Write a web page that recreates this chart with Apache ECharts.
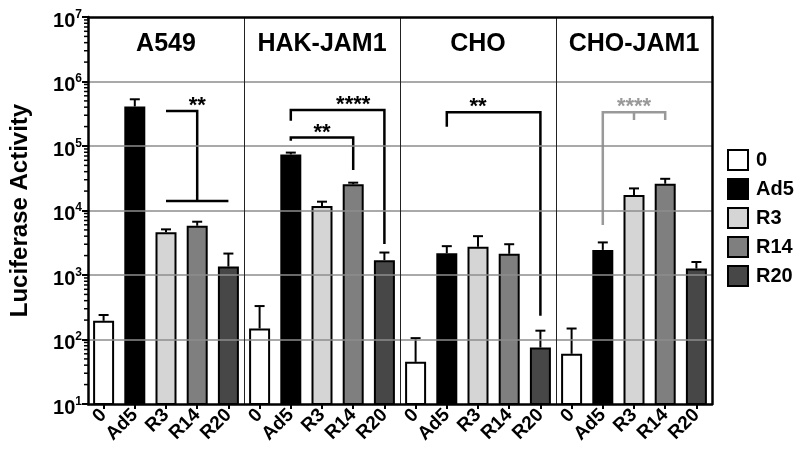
<!DOCTYPE html>
<html><head><meta charset="utf-8">
<script src="https://cdn.jsdelivr.net/npm/echarts@6/dist/echarts.min.js"></script>
<style>html,body{margin:0;padding:0;background:#fff}#c{width:800px;height:461px}</style>
</head><body><div id="c"></div>
<script>
// ---- data ----
const panels = ['A549', 'HAK-JAM1', 'CHO', 'CHO-JAM1'];
const groups = ['0', 'Ad5', 'R3', 'R14', 'R20'];
const meanA549 = [195, 410000, 4600, 5800, 1350];
const errA549  = [240, 530000, 5100, 6700, 2150];
const meanHAK  = [148, 74000, 11700, 25500, 1700];
const errHAK   = [330, 79000, 13700, 27000, 2230];
const meanCHO  = [45, 2170, 2750, 2130, 75];
const errCHO   = [105, 2800, 4000, 3000, 137];
const meanCJ   = [60, 2450, 17400, 26000, 1260];
const errCJ    = [148, 3200, 22000, 31000, 1590];
const means = [meanA549, meanHAK, meanCHO, meanCJ];
const errs  = [errA549, errHAK, errCHO, errCJ];
// significance brackets: points as [category index, value]
const bracketLines = [
  [[1.81, 3.5e5], [3, 3.5e5], [3, 1.4e4]],
  [[2.13, 1.4e4], [3.95, 1.4e4]],
  [[6, 2.47e5], [6, 3.6e5], [9, 3.6e5], [9, 3030]],
  [[6, 1.21e5], [6, 1.35e5], [8, 1.35e5], [8, 4.25e4]],
  [[11, 1.99e5], [11, 3.33e5], [14, 3.33e5], [14, 234]],
  [[16, 5960], [16, 3.33e5], [18, 3.33e5], [18, 2.53e5]],
  [[17, 3.33e5], [17, 2.53e5]]
];
const bracketGray = [false, false, false, false, false, true, true];
const starText = ['**', '****', '**', '**', '****'];
const starPos  = [[2.54, 3.5e5], [7.63, 3.6e5], [7.1, 1.35e5], [12.44, 3.33e5], [16.93, 3.33e5]];
const starGray = [false, false, false, false, true];

// ---- styles ----
const groupColors = ['#ffffff', '#000000', '#d5d5d5', '#7f7f7f', '#474747'];
const FONT = 'Arial, "Liberation Sans", Helvetica, sans-serif';

const cats = [];
panels.forEach(p => groups.forEach(g => cats.push(p + '|' + g)));

const barSeries = groups.map((g, gi) => {
  const data = [];
  panels.forEach((p, pi) => groups.forEach((g2, k) => data.push(k === gi ? means[pi][k] : '-')));
  return {
    name: g, type: 'bar', barWidth: 21, barGap: '-100%', z: 2,
    itemStyle: { color: groupColors[gi], borderColor: '#000', borderWidth: 2 },
    data
  };
});

const errData = [];
panels.forEach((p, pi) => groups.forEach((g, k) => errData.push([pi * 5 + k, means[pi][k], errs[pi][k]])));

const minorData = [];
for (let d = 1; d < 7; d++) for (let k = 2; k <= 9; k++) minorData.push([0, k * Math.pow(10, d)]);

const chart = echarts.init(document.getElementById('c'), null, { renderer: 'canvas' });
chart.setOption({
  animation: false,
  backgroundColor: '#fff',
  textStyle: { fontFamily: FONT },
  grid: { left: 88, right: 88, top: 17, bottom: 57, show: false, containLabel: false, outerBoundsMode: 'none' },
  legend: {
    orient: 'vertical', left: 722, top: 144, itemWidth: 20, itemHeight: 20, itemGap: 7,
    icon: 'rect', data: groups,
    textStyle: { fontSize: 20, fontWeight: 'bold', color: '#000', fontFamily: FONT, padding: [0, 0, 0, 3] }
  },
  xAxis: [{
    type: 'category', data: cats, z: 10,
    axisLine: { show: true, lineStyle: { color: '#000', width: 2.5 } },
    axisTick: { show: true, alignWithLabel: true, length: 5, interval: 0, lineStyle: { color: '#000', width: 2 } },
    splitLine: { show: true, interval: (i) => i > 0 && i % 5 === 0, lineStyle: { color: '#222', width: 1 } },
    axisLabel: { interval: 0, rotate: 45, margin: 8, fontSize: 19, fontWeight: 'bold', color: '#000', fontFamily: FONT,
      hideOverlap: false, formatter: v => v.split('|')[1] }
  }, {
    type: 'category', data: panels, position: 'top', z: 10,
    axisLine: { show: true, lineStyle: { color: '#000', width: 2.5 } }, axisTick: { show: false }, splitLine: { show: false },
    axisLabel: { inside: true, interval: 0, hideOverlap: false, margin: 15, fontSize: 25, fontWeight: 'bold', color: '#000', fontFamily: FONT }
  }],
  yAxis: [{
    type: 'log', logBase: 10, min: 10, max: 1e7, splitNumber: 6, z: 10,
    name: 'Luciferase Activity', nameLocation: 'middle', nameGap: 56,
    nameTextStyle: { fontSize: 24, fontWeight: 'bold', color: '#000', fontFamily: FONT },
    axisLine: { show: true, lineStyle: { color: '#000', width: 2.5 } },
    axisTick: { show: true, length: 6, lineStyle: { color: '#000', width: 2 } },
    splitLine: { show: true, showMinLine: false, showMaxLine: false, lineStyle: { color: '#8c8c8c', width: 1.5 } },
    axisLabel: {
      margin: 6, color: '#000',
      formatter: v => '{b|10}{s|' + Math.round(Math.log10(v)) + '}',
      rich: {
        b: { fontSize: 20, fontWeight: 'bold', color: '#000', fontFamily: FONT, padding: [8, 0, 0, 0] },
        s: { fontSize: 12, fontWeight: 'bold', color: '#000', fontFamily: FONT, padding: [0, 0, 5, 0] }
      }
    }
  }, {
    type: 'log', logBase: 10, min: 10, max: 1e7, position: 'right', z: 10,
    axisLine: { show: true, lineStyle: { color: '#000', width: 2.5 } },
    axisTick: { show: false }, axisLabel: { show: false }, splitLine: { show: false }
  }],
  series: barSeries.concat([
    {
      type: 'custom', name: 'err', z: 3, silent: true, data: errData,
      encode: { x: 0, y: [1, 2] },
      renderItem(params, api) {
        const x = api.value(0), m = api.value(1), e = api.value(2);
        const p0 = api.coord([x, m]), p1 = api.coord([x, e]);
        const hw = 5;
        return { type: 'group', children: [
          { type: 'line', shape: { x1: p0[0], y1: p0[1], x2: p1[0], y2: p1[1] }, style: { stroke: '#000', lineWidth: 2 } },
          { type: 'line', shape: { x1: p1[0] - hw, y1: p1[1], x2: p1[0] + hw, y2: p1[1] }, style: { stroke: '#000', lineWidth: 2 } }
        ] };
      }
    },
    {
      type: 'custom', name: 'minor', z: 11, silent: true, data: minorData,
      encode: { x: 0, y: 1 },
      renderItem(params, api) {
        const y = api.coord([0, api.value(1)])[1];
        const x = params.coordSys.x;
        return { type: 'line', shape: { x1: x - 4, y1: y, x2: x, y2: y }, style: { stroke: '#000', lineWidth: 1.5 } };
      }
    },
    {
      type: 'custom', name: 'brackets', z: 4, silent: true,
      data: bracketLines.map((b, i) => [b[0][0], b[0][1], i]),
      encode: { x: 0, y: 1 },
      renderItem(params, api) {
        const i = params.dataIndex;
        const pts = bracketLines[i].map(p => api.coord(p));
        return { type: 'polyline', shape: { points: pts },
          style: { stroke: bracketGray[i] ? '#999999' : '#000', lineWidth: 2.5, fill: null } };
      }
    },
    {
      type: 'custom', name: 'stars', z: 5, silent: true,
      data: starPos.map((p, i) => [p[0], p[1], i]),
      encode: { x: 0, y: 1 },
      renderItem(params, api) {
        const i = params.dataIndex;
        const c = api.coord(starPos[i]);
        return { type: 'text', style: { text: starText[i], x: c[0], y: c[1] - 5,
          font: 'bold 22px ' + FONT, fill: starGray[i] ? '#999999' : '#000',
          align: 'center', verticalAlign: 'middle' } };
      }
    }
  ])
});
</script>
</body></html>
